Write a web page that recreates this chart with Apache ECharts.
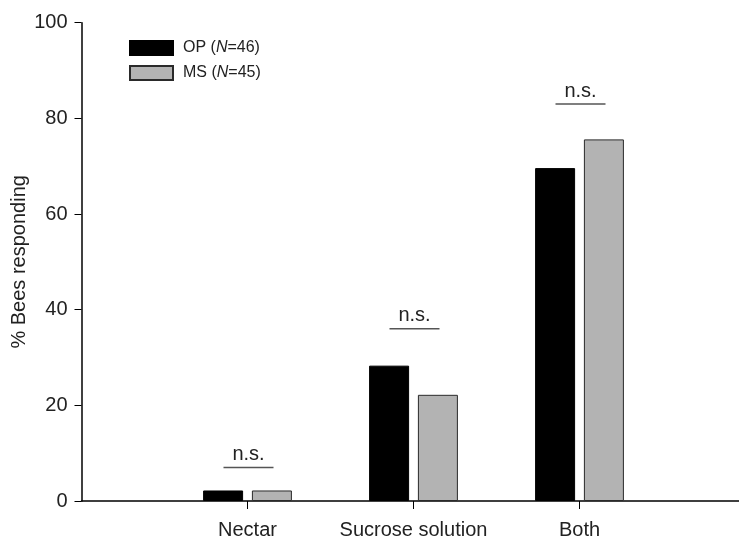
<!DOCTYPE html>
<html>
<head>
<meta charset="utf-8">
<script src="https://cdn.jsdelivr.net/npm/echarts@6/dist/echarts.min.js"></script>
<style>
  html, body { margin: 0; padding: 0; background: #fff; }
  #chart { width: 739px; height: 541px; }
</style>
</head>
<body>
<div id="chart"></div>
<script>
// data
const categories = ['Nectar', 'Sucrose solution', 'Both']
const seriesNames = ['OP', 'MS']
const sampleSizes = [46, 45]
const opValues = [2.2, 28.3, 69.6]
const msValues = [2.2, 22.2, 75.6]
const nsLevels = [7, 36, 83]
const yTicks = [0, 20, 40, 60, 80, 100]

// padded category axis so the groups sit like in the original
const axisCats = ['', ...categories, '']

const chart = echarts.init(document.getElementById('chart'))

const font = 'Liberation Sans, Arial, Helvetica, sans-serif'

chart.setOption({
  backgroundColor: '#fff',
  animation: false,
  textStyle: { fontFamily: font },
  grid: { left: 81.5, width: 664, top: 22.7, bottom: 40, containLabel: false, outerBoundsMode: 'none' },
  legend: {
    data: seriesNames,
    orient: 'vertical',
    left: 129,
    top: 40,
    padding: 0,
    itemWidth: 43,
    itemHeight: 14,
    itemGap: 9,
    icon: 'rect',
    formatter: name => `${name} ({i|N}=${sampleSizes[seriesNames.indexOf(name)]})`,
    textStyle: {
      fontSize: 16, color: '#222', fontFamily: font, padding: [0, 0, 0, 5],
      rich: { i: { fontSize: 16, fontStyle: 'italic', color: '#222', fontFamily: font } }
    }
  },
  xAxis: {
    type: 'category',
    data: axisCats,
    boundaryGap: false,
    axisLine: { lineStyle: { color: '#000', width: 1.5 } },
    axisTick: { length: 8, interval: (i, v) => v !== '', lineStyle: { color: '#000' } },
    axisLabel: { interval: 0, fontSize: 20, color: '#222', margin: 19 }
  },
  yAxis: {
    type: 'value',
    min: 0,
    max: 100,
    interval: 20,
    name: '% Bees responding',
    nameLocation: 'middle',
    nameGap: 52,
    nameMoveOverlap: false,
    nameTextStyle: { fontSize: 20, color: '#222' },
    splitLine: { show: false },
    axisLine: { show: true, lineStyle: { color: '#000', width: 1.5 } },
    axisTick: { show: true, length: 7, lineStyle: { color: '#000' } },
    axisLabel: { fontSize: 20, color: '#222', margin: 14, formatter: v => yTicks.includes(v) ? String(v) : '' }
  },
  series: [
    {
      name: seriesNames[0],
      type: 'bar',
      barWidth: 40,
      barGap: '22%',
      itemStyle: { color: '#000', borderColor: '#000', borderWidth: 1 },
      data: categories.map((c, i) => [c, opValues[i]])
    },
    {
      name: seriesNames[1],
      type: 'bar',
      barWidth: 40,
      itemStyle: { color: '#b3b3b3', borderColor: '#2a2a2a', borderWidth: 1 },
      data: categories.map((c, i) => [c, msValues[i]])
    },
    {
      type: 'custom',
      silent: true,
      data: categories.map((c, i) => [c, nsLevels[i]]),
      renderItem: (params, api) => {
        const p = api.coord([api.value(0), api.value(1)])
        const x = p[0] + 1
        return {
          type: 'group',
          children: [
            {
              type: 'line',
              shape: { x1: x - 25, y1: p[1], x2: x + 25, y2: p[1] },
              style: { stroke: '#555', lineWidth: 1.5 }
            },
            {
              type: 'text',
              x: x,
              y: p[1] - 3,
              style: {
                text: 'n.s.', fontSize: 20, fontFamily: font, fill: '#222',
                align: 'center', verticalAlign: 'bottom'
              }
            }
          ]
        }
      }
    }
  ]
})
</script>
</body>
</html>
